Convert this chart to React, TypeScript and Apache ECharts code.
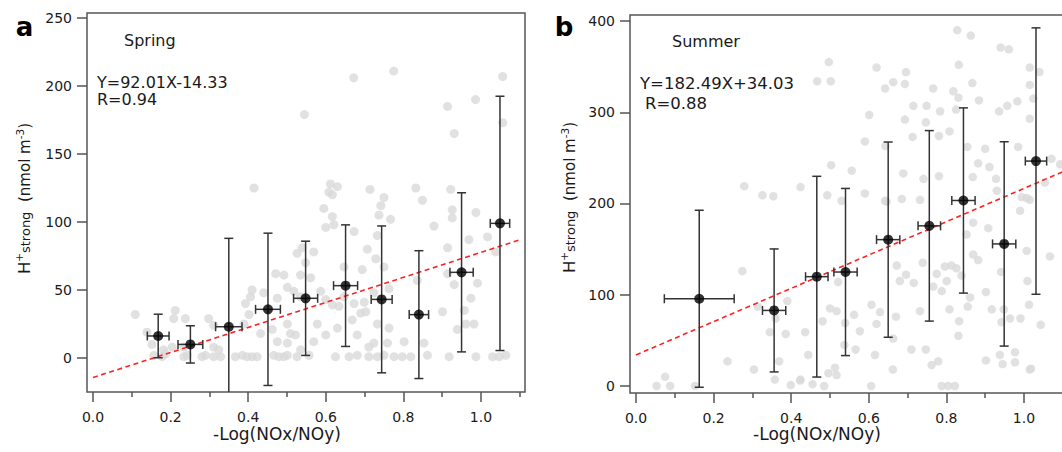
import React, { useEffect, useRef } from "react";
import * as echarts from "echarts";

const FONT = "'DejaVu Sans', Verdana, sans-serif";

// tick values / labels
const xTickValues = [0, 0.2, 0.4, 0.6, 0.8, 1.0];
const xMinorTickValues = [0.1, 0.3, 0.5, 0.7, 0.9, 1.1];
const springYTicks = [0, 50, 100, 150, 200, 250];
const summerYTicks = [0, 100, 200, 300, 400];

// panel a (Spring) raw observations: [-Log(NOx/NOy), H+strong]
const springScatter: [number, number][] = [
  [0.157, 2], [0.178, 1], [0.187, 3], [0.234, 1], [0.243, 2], [0.281, 1], [0.29, 2], [0.311, 1], [0.329, 1],
  [0.367, 1], [0.385, 2], [0.397, 1], [0.41, 1], [0.423, 1], [0.466, 2], [0.479, 1], [0.492, 1], [0.501, 2],
  [0.526, 1], [0.557, 2], [0.625, 1], [0.66, 1], [0.681, 2], [0.711, 1], [0.733, 1], [0.75, 2], [0.776, 1],
  [0.797, 1], [0.819, 1], [0.862, 2], [0.918, 1], [0.987, 1], [1.03, 1], [1.047, 1], [1.064, 2],
  [0.204, 8], [0.234, 8], [0.311, 8], [0.324, 6], [0.475, 12], [0.501, 11], [0.535, 6], [0.569, 12], [0.711, 8],
  [0.724, 11], [0.759, 11], [0.802, 12], [0.853, 11], [0.152, 10], [0.182, 6],
  [0.139, 19], [0.109, 32], [0.208, 29], [0.212, 35], [0.238, 29], [0.298, 29], [0.311, 24], [0.389, 25],
  [0.402, 32], [0.432, 18], [0.462, 21], [0.501, 25], [0.509, 18], [0.522, 17], [0.578, 25], [0.6, 17],
  [0.63, 22], [0.681, 17], [0.668, 28], [0.69, 33], [0.703, 34], [0.733, 25], [0.763, 22], [0.901, 34],
  [0.939, 21], [0.961, 25], [0.982, 25], [0.957, 35],
  [0.393, 40], [0.406, 45], [0.41, 50], [0.44, 48], [0.475, 44], [0.501, 52], [0.518, 49], [0.535, 45],
  [0.587, 49], [0.6, 43], [0.617, 39], [0.634, 38], [0.647, 45], [0.673, 40], [0.699, 41], [0.724, 48],
  [0.763, 51], [0.974, 44], [0.991, 55], [0.931, 54],
  [0.471, 62], [0.492, 61], [0.535, 61], [0.561, 59], [0.647, 67], [0.694, 65], [0.729, 73], [0.75, 67],
  [0.836, 57], [0.914, 62],
  [0.526, 77], [0.539, 81], [0.569, 78], [0.548, 70], [0.707, 80], [0.914, 81], [0.969, 87], [1.017, 89], [1.038, 78],
  [0.6, 96], [0.621, 98], [0.673, 93], [0.733, 90], [0.879, 97],
  [0.595, 110], [0.617, 104], [0.737, 105], [0.767, 102], [0.926, 109], [0.926, 103], [0.987, 107], [0.849, 116],
  [0.415, 125], [0.612, 128], [0.608, 122], [0.63, 126], [0.617, 120], [0.714, 124], [0.75, 118], [0.742, 112],
  [0.832, 125], [0.922, 124],
  [0.672, 206], [0.775, 211], [0.545, 179], [1.056, 207], [1.056, 173], [0.986, 190], [0.914, 185], [0.931, 165],
];

// panel a binned means and errors
const springMeanX = [0.168, 0.251, 0.35, 0.451, 0.548, 0.651, 0.744, 0.84, 0.95, 1.049];
const springMeanY = [16.2, 10, 23, 35.8, 43.9, 53.2, 43.1, 31.9, 63, 99];
const springXErr = [0.028, 0.032, 0.034, 0.032, 0.031, 0.031, 0.027, 0.025, 0.03, 0.025];
const springYErr = [16, 13.7, 65, 56, 42, 44.7, 54, 47, 58.5, 93.5];

// panel a fitted line Y=92.01X-14.33 endpoints
const springFitX = [0, 1.1];
const springFitY = [-14.33, 86.88];

// panel b (Summer) raw observations
const summerScatter: [number, number][] = [
  [0.828, 390], [0.863, 384], [0.94, 371], [0.961, 369], [0.497, 355], [0.62, 349], [0.696, 344], [0.832, 352],
  [1.015, 349], [1.04, 344], [0.467, 334], [0.502, 334], [0.663, 333], [0.693, 331], [0.642, 326], [0.766, 326],
  [0.867, 332], [1.015, 330], [0.818, 323], [0.831, 316], [0.884, 313], [0.983, 312], [1.024, 315], [0.957, 307],
  [0.936, 301], [0.715, 307], [0.749, 307], [0.784, 301], [0.825, 303], [0.601, 297], [0.693, 292], [0.747, 289],
  [1.015, 293], [0.808, 279], [0.781, 274], [0.713, 273], [0.59, 268], [0.643, 263], [0.854, 262], [0.9, 260],
  [0.985, 262], [1.071, 249], [0.882, 244], [0.911, 240], [0.503, 242], [0.556, 236], [0.689, 233], [0.741, 227],
  [0.781, 230], [0.868, 229], [0.928, 227], [1.054, 223], [1.093, 243], [0.279, 219], [0.326, 209], [0.354, 208],
  [0.424, 218], [0.493, 209], [0.59, 211], [0.93, 214], [0.994, 207], [1.015, 204], [0.642, 203], [0.685, 205],
  [0.732, 204],
  [0.274, 126], [0.236, 27], [0.075, 10], [0.053, 0], [0.088, 0], [0.152, 0], [0.304, 18], [0.358, 7], [0.369, 27],
  [0.345, 59], [0.386, 57], [0.39, 93], [0.36, 74], [0.424, 7], [0.399, 1], [0.436, 59], [0.444, 34], [0.455, 2],
  [0.485, 0], [0.496, 14], [0.517, 12], [0.513, 20], [0.481, 71], [0.5, 85], [0.517, 82], [0.521, 114],
  [0.539, 69], [0.537, 45], [0.566, 40], [0.562, 78], [0.577, 60], [0.616, 34], [0.606, 0], [0.662, 18],
  [0.663, 52], [0.62, 68], [0.629, 81], [0.607, 89], [0.67, 76], [0.672, 132], [0.68, 115], [0.696, 122],
  [0.716, 113], [0.71, 40], [0.747, 40], [0.732, 82], [0.739, 135], [0.762, 23], [0.779, 27], [0.788, 0],
  [0.805, 0], [0.822, 0], [0.775, 123], [0.796, 131], [0.813, 132], [0.826, 129], [0.839, 121], [0.801, 115],
  [0.788, 104], [0.766, 109], [0.808, 84], [0.833, 71], [0.831, 55], [0.855, 87], [0.861, 97], [0.852, 166],
  [0.869, 179], [0.869, 144], [0.882, 138], [0.908, 173], [0.902, 103], [0.917, 84], [0.941, 125], [0.942, 70],
  [0.948, 84], [0.964, 74], [0.991, 74], [1.007, 148], [1.009, 115], [1.013, 89], [1.043, 67], [1.067, 142],
  [0.902, 28], [0.938, 34], [0.945, 24], [0.977, 37], [0.977, 26], [1.018, 19], [0.99, 192], [1.007, 206],
  [0.53, 203], [0.646, 202], [0.314, 87], [0.423, 6], [1.015, 18],
];

const summerMeanX = [0.163, 0.356, 0.466, 0.54, 0.65, 0.756, 0.844, 0.949, 1.031];
const summerMeanY = [95.6, 82.8, 119.8, 124.9, 160.4, 175.5, 203.3, 155.7, 246.5];
const summerXErr = [0.09, 0.03, 0.029, 0.03, 0.03, 0.029, 0.03, 0.03, 0.0275];
const summerYErr = [97, 67.4, 110, 91.6, 107, 104.4, 101.5, 112, 146];

// panel b fitted line Y=182.49X+34.03 endpoints
const summerFitX = [0, 1.105];
const summerFitY = [34.03, 235.68];

const AXIS_COLOR = "#555";
const LABEL_COLOR = "#1a1a1a";

function errorBarRender(_params: any, api: any) {
  const x = api.value(0);
  const y = api.value(1);
  const xe = api.value(2);
  const ye = api.value(3);
  const top = api.coord([x, y + ye]);
  const bot = api.coord([x, y - ye]);
  const left = api.coord([x - xe, y]);
  const right = api.coord([x + xe, y]);
  const cap = 4.5;
  const style = { stroke: "#333", lineWidth: 1.5, fill: "none" };
  const ln = (x1: number, y1: number, x2: number, y2: number) => ({
    type: "line",
    shape: { x1, y1, x2, y2 },
    style,
  });
  return {
    type: "group",
    children: [
      ln(top[0], top[1], bot[0], bot[1]),
      ln(top[0] - cap, top[1], top[0] + cap, top[1]),
      ln(bot[0] - cap, bot[1], bot[0] + cap, bot[1]),
      ln(left[0], left[1], right[0], right[1]),
      ln(left[0], left[1] - cap, left[0], left[1] + cap),
      ln(right[0], right[1] - cap, right[0], right[1] + cap),
    ],
  };
}

function xMainAxis(gridIndex: number, min: number, max: number) {
  return {
    type: "value",
    gridIndex,
    min,
    max,
    position: "bottom",
    axisLine: { show: false, onZero: false },
    splitLine: { show: false },
    axisTick: {
      show: true,
      inside: false,
      length: 10,
      customValues: xTickValues,
      lineStyle: { color: AXIS_COLOR, width: 1.5 },
    },
    axisLabel: {
      customValues: xTickValues,
      formatter: (v: number) => v.toFixed(1),
      fontFamily: FONT,
      fontSize: 14,
      color: LABEL_COLOR,
      margin: 18,
    },
  };
}

function xMinorAxis(gridIndex: number, min: number, max: number) {
  return {
    type: "value",
    gridIndex,
    min,
    max,
    position: "bottom",
    offset: 0,
    axisLine: { show: false, onZero: false },
    splitLine: { show: false },
    axisTick: {
      show: true,
      inside: false,
      length: 5,
      customValues: xMinorTickValues,
      lineStyle: { color: AXIS_COLOR, width: 1.5 },
    },
    axisLabel: { show: false },
  };
}

function yAxis(gridIndex: number, min: number, max: number, ticks: number[]) {
  return {
    type: "value",
    gridIndex,
    min,
    max,
    position: "left",
    axisLine: { show: false, onZero: false },
    splitLine: { show: false },
    axisTick: {
      show: true,
      inside: false,
      length: 10,
      customValues: ticks,
      lineStyle: { color: AXIS_COLOR, width: 1.5 },
    },
    axisLabel: {
      customValues: ticks,
      formatter: (v: number) => String(Math.round(v)),
      fontFamily: FONT,
      fontSize: 14,
      color: LABEL_COLOR,
      margin: 15,
    },
  };
}

function txt(text: string, x: number, y: number, fontSize: number, align = "left", extra: any = {}) {
  return {
    type: "text",
    x,
    y,
    silent: true,
    style: {
      text,
      fontFamily: FONT,
      fontSize,
      fill: LABEL_COLOR,
      align,
      verticalAlign: "middle",
      ...extra,
    },
  };
}

function yTitle(x: number, y: number) {
  return {
    type: "group",
    x,
    y,
    rotation: Math.PI / 2,
    silent: true,
    children: [
      txt("H", 0, -5.8, 16.5),
      txt("+", 16.5, -10.5, 11, "center"),
      txt("strong", 21, -4.5, 13),
      txt("(nmol m", 72, -5.2, 15),
      txt("-3", 134.7, -10.5, 10.5),
      txt(")", 145.2, -5.2, 15),
    ],
  };
}

export default function App() {
  const ref = useRef<HTMLDivElement>(null);

  useEffect(() => {
    if (!ref.current) return;
    const chart = echarts.init(ref.current, undefined, { renderer: "svg" });

    const springMeans = springMeanX.map((x, i) => [x, springMeanY[i]]);
    const springBars = springMeanX.map((x, i) => [x, springMeanY[i], springXErr[i], springYErr[i]]);
    const summerMeans = summerMeanX.map((x, i) => [x, summerMeanY[i]]);
    const summerBars = summerMeanX.map((x, i) => [x, summerMeanY[i], summerXErr[i], summerYErr[i]]);
    const springFit = springFitX.map((x, i) => [x, springFitY[i]]);
    const summerFit = summerFitX.map((x, i) => [x, summerFitY[i]]);

    const option: any = {
      animation: false,
      backgroundColor: "#fff",
      grid: [
        {
          left: 87, top: 13, width: 438, height: 379,
          show: true, borderColor: AXIS_COLOR, borderWidth: 1.5, backgroundColor: "transparent",
          containLabel: false, outerBoundsMode: "none",
        },
        {
          left: 630, top: 15, width: 434.7, height: 378,
          show: true, borderColor: AXIS_COLOR, borderWidth: 1.5, backgroundColor: "transparent",
          containLabel: false, outerBoundsMode: "none",
        },
      ],
      xAxis: [
        xMainAxis(0, -0.0155, 1.1135),
        xMinorAxis(0, -0.0155, 1.1135),
        xMainAxis(1, -0.0155, 1.105),
        xMinorAxis(1, -0.0155, 1.105),
      ],
      yAxis: [yAxis(0, -25, 253.7, springYTicks), yAxis(1, -7.7, 406.6, summerYTicks)],
      series: [
        {
          type: "scatter", xAxisIndex: 0, yAxisIndex: 0, data: springScatter,
          symbolSize: 9, itemStyle: { color: "#d9d9d9" }, z: 1, silent: true,
        },
        {
          type: "line", xAxisIndex: 0, yAxisIndex: 0, data: springFit, symbol: "none",
          lineStyle: { color: "#f22", width: 1.6, type: [5, 3.5] }, z: 2, silent: true,
        },
        {
          type: "custom", xAxisIndex: 0, yAxisIndex: 0, data: springBars, renderItem: errorBarRender,
          encode: { x: 0, y: 1 }, clip: true, z: 3, silent: true,
        },
        {
          type: "scatter", xAxisIndex: 0, yAxisIndex: 0, data: springMeans,
          symbolSize: 10, itemStyle: { color: "#000" }, z: 4, silent: true,
        },
        {
          type: "scatter", xAxisIndex: 2, yAxisIndex: 1, data: summerScatter,
          symbolSize: 8.5, itemStyle: { color: "#d9d9d9" }, z: 1, silent: true,
        },
        {
          type: "line", xAxisIndex: 2, yAxisIndex: 1, data: summerFit, symbol: "none",
          lineStyle: { color: "#f22", width: 1.6, type: [5, 3.5] }, z: 2, silent: true,
        },
        {
          type: "custom", xAxisIndex: 2, yAxisIndex: 1, data: summerBars, renderItem: errorBarRender,
          encode: { x: 0, y: 1 }, clip: true, z: 3, silent: true,
        },
        {
          type: "scatter", xAxisIndex: 2, yAxisIndex: 1, data: summerMeans,
          symbolSize: 10, itemStyle: { color: "#000" }, z: 4, silent: true,
        },
      ],
      graphic: [
        txt("a", 24.5, 27, 26, "center", { fontWeight: "bold", fill: "#000" }),
        txt("b", 564, 27, 26, "center", { fontWeight: "bold", fill: "#000" }),
        txt("Spring", 124, 40, 16),
        txt("Y=92.01X-14.33", 97, 82, 16),
        txt("R=0.94", 97, 99, 16),
        txt("Summer", 672, 41, 16),
        txt("Y=182.49X+34.03", 640, 83, 16.5),
        txt("R=0.88", 645, 103, 16.5),
        txt("-Log(NOx/NOy)", 277, 434, 17, "center"),
        txt("-Log(NOx/NOy)", 817, 434, 17, "center"),
        yTitle(30, 274),
        yTitle(575, 273),
      ],
    };

    chart.setOption(option);
    return () => chart.dispose();
  }, []);

  return (
    <div
      ref={ref}
      style={{ position: "absolute", left: 0, top: 0, width: 1062, height: 452, overflow: "hidden" }}
    />
  );
}
